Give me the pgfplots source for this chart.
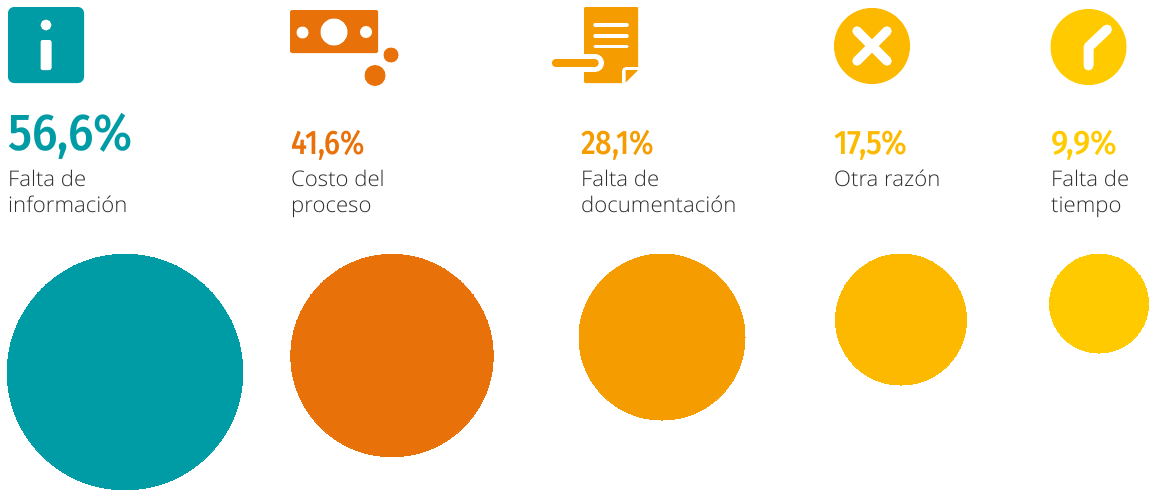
\documentclass[border=0pt]{standalone}
\usepackage{pgfplots}
\pgfplotsset{compat=1.18}
\usepackage{fontspec}
\setmainfont{Open Sans Light}
\newfontfamily\numfont{Fira Sans Medium}
\definecolor{cA}{HTML}{009CA6}
\definecolor{cB}{HTML}{E8710A}
\definecolor{cC}{HTML}{F59C00}
\definecolor{cD}{HTML}{FDB900}
\definecolor{cE}{HTML}{FFCB00}
\definecolor{txt}{HTML}{2F2F2F}
\newcommand{\lab}[3]{%
  \node[anchor=base west,inner sep=0pt,text=txt,xscale=1.03,font=\fontsize{21.5}{24}\selectfont] at (axis cs:#1,#2) {#3};}
\newcommand{\pct}[6]{%
  \node[anchor=base west,inner sep=0pt,text=#3,xscale=#4,font=\fontsize{#5}{#5}\selectfont\numfont] at (axis cs:#1,#2) {#6\%};}
\begin{document}
\begin{tikzpicture}
\begin{axis}[
  width=1153pt, height=489pt, scale only axis,
  xmin=0, xmax=1153, ymin=0, ymax=489, y dir=reverse,
  hide axis, clip=true,
]
\path (axis cs:0,0) rectangle (axis cs:1153,489);
% circles, radius in px = mark size
\addplot[cA, only marks, mark=*, mark size=117.8pt, line width=0pt] coordinates {(125,372)};
\addplot[cB, only marks, mark=*, mark size=101.2pt, line width=0pt] coordinates {(392,355.5)};
\addplot[cC, only marks, mark=*, mark size=83pt, line width=0pt] coordinates {(662,337)};
\addplot[cD, only marks, mark=*, mark size=65.5pt, line width=0pt] coordinates {(901,319.5)};
\addplot[cE, only marks, mark=*, mark size=49.5pt, line width=0pt] coordinates {(1099,303.5)};

% percentages
\pct{8}{150}{cA}{0.89}{52}{56,6}
\pct{291}{154}{cB}{0.85}{34}{41,6}
\pct{581}{154}{cC}{0.855}{34}{28,1}
\pct{834}{154}{cD}{0.895}{34}{17,5}
\pct{1051}{154}{cE}{0.93}{34}{9,9}

% labels
\lab{8}{186.5}{Falta de}
\lab{8}{212}{información}
\lab{291}{186.5}{Costo del}
\lab{291}{212}{proceso}
\lab{581}{186.5}{Falta de}
\lab{581}{212}{documentación}
\lab{834}{186.5}{Otra razón}
\lab{1051}{186.5}{Falta de}
\lab{1051}{212}{tiempo}

% icon: info
\fill[cA,rounded corners=6pt] (axis cs:8,7) rectangle (axis cs:84,83);
\fill[white] (axis cs:46,25) circle[radius=5.5pt];
\fill[white,rounded corners=2pt] (axis cs:40.5,40) rectangle (axis cs:51.5,70);

% icon: banknote
\fill[cB,rounded corners=1.5pt] (axis cs:290,10) rectangle (axis cs:378,53);
\fill[white] (axis cs:334,32) circle[radius=13.5pt];
\fill[white] (axis cs:302.5,32.5) circle[radius=6pt];
\fill[white] (axis cs:366,32) circle[radius=6pt];
\fill[cB] (axis cs:391,55) circle[radius=7.5pt];
\fill[cB] (axis cs:375,75.5) circle[radius=10.5pt];

% icon: document
\fill[cC,rounded corners=1pt] (axis cs:584,7) rectangle (axis cs:638,83);
\draw[white,line width=3.5pt,line cap=round] (axis cs:595,25) -- (axis cs:627,25);
\draw[white,line width=3.5pt,line cap=round] (axis cs:595,36) -- (axis cs:627,36);
\draw[white,line width=3.5pt,line cap=round] (axis cs:595,46.5) -- (axis cs:627,46.5);
\draw[white,line width=18pt,line cap=round] (axis cs:575,63) -- (axis cs:595,63);
\draw[cC,line width=7.5pt,line cap=round] (axis cs:555.5,63) -- (axis cs:595,63);
\fill[white,rounded corners=4pt] (axis cs:622,67) -- (axis cs:642,67) -- (axis cs:642,87) -- (axis cs:622,87) -- cycle;
\fill[cC] (axis cs:625.5,70) -- (axis cs:638,70) -- (axis cs:625.5,82.5) -- cycle;

% icon: cross
\fill[cD] (axis cs:872,46) circle[radius=38pt];
\draw[white,line width=9.5pt,line cap=round] (axis cs:857,31) -- (axis cs:887,61);
\draw[white,line width=9.5pt,line cap=round] (axis cs:887,31) -- (axis cs:857,61);

% icon: clock
\fill[cE] (axis cs:1088.5,47) circle[radius=38pt];
\draw[white,line width=10pt,line cap=round,line join=round] (axis cs:1088.5,65.5) -- (axis cs:1088.5,47) -- (axis cs:1107,29.5);
\end{axis}
\end{tikzpicture}
\end{document}
